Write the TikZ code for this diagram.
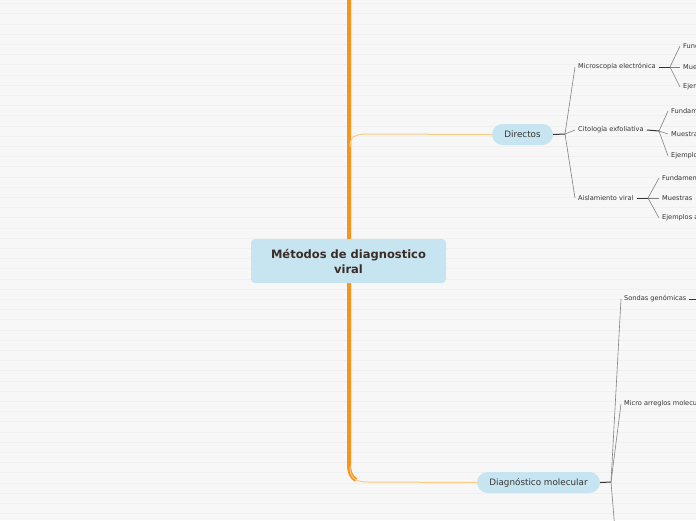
\documentclass[tikz,border=0pt]{standalone}
\usepackage{fontspec}
\setmainfont{DejaVu Sans}

\definecolor{fondo}{HTML}{F7F7F7}
\definecolor{raya}{HTML}{F0F0F0}
\definecolor{naranja}{HTML}{F7941D}
\definecolor{naranjaclaro}{HTML}{FCCB86}
\definecolor{celeste}{HTML}{C6E5F0}
\definecolor{titulo}{HTML}{3B2C27}
\definecolor{texto}{HTML}{333333}
\definecolor{gris}{HTML}{808080}

\tikzset{
  central/.style={rounded corners=4pt, fill=celeste, text=titulo,
    font=\bfseries\fontsize{11.5}{15}\selectfont, align=center,
    minimum width=195pt, minimum height=44pt},
  tema/.style={rounded corners=10.5pt, fill=celeste, text=texto,
    font=\fontsize{8.8}{10}\selectfont, minimum height=21pt},
  hoja/.style={anchor=west, inner xsep=3pt, inner ysep=0pt, text=texto,
    font=\fontsize{6.6}{8}\selectfont},
  tronco/.style={draw=naranja, line width=4pt},
  ramaclara/.style={draw=naranjaclaro, line width=1pt},
  barra/.style={draw=texto, line width=1pt},
  enlace/.style={draw=gris, line width=0.6pt},
}

\begin{document}
\begin{tikzpicture}[x=1pt, y=-1pt]
                    % Background
                    \useasboundingbox (0,0) rectangle (696,520);
                    \clip (0,0) rectangle (696,520);
                    \fill[fondo] (0,0) rectangle (696,520);
                    \foreach \i in {0,...,50}
                        \draw[raya, line width=0.7pt] (0,3.5+10.2*\i) -- (696,3.5+10.2*\i);
                    % Trunk
                    \draw[tronco] (349,-5) -- (349,464)
                        .. controls (349,472) and (351,477) .. (356,480);
                    \coordinate (tdir) at (350,147);
                    \coordinate (tmol) at (350,466);
                    % Nodes
                    \node[central] (metodos) at (348.5,261) {Métodos de diagnostico\\viral};
                    \node[tema, minimum width=61pt] (directos) at (522.5,134.5) {Directos};
                    \node[tema, minimum width=123pt] (molecular) at (538.5,482.5) {Diagnóstico molecular};

                    \coordinate (jdir) at (565,134);
                    \node[hoja] (microscopia) at (575,67) {Microscopia electrónica};
                    \node[hoja] (citologia) at (575,130) {Citología exfoliativa};
                    \node[hoja] (aislamiento) at (575,198) {Aislamiento viral};

                    \coordinate (jmic) at (670,67);
                    \node[hoja] (micfun) at (680,46) {Fundamento};
                    \node[hoja] (micmue) at (680,67) {Muestras};
                    \node[hoja] (miceje) at (680,87) {Ejemplos};

                    \coordinate (jcit) at (659,131);
                    \node[hoja] (citfun) at (668,111) {Fundamento};
                    \node[hoja] (citmue) at (668,134) {Muestras};
                    \node[hoja] (citeje) at (668,156) {Ejemplos};

                    \coordinate (jais) at (648,198);
                    \node[hoja] (aisfun) at (659,178) {Fundamento};
                    \node[hoja] (aismue) at (659,198) {Muestras};
                    \node[hoja] (aiseje) at (659,218) {Ejemplos a};
                    \coordinate (aisfin) at (702,198);

                    \coordinate (jmol) at (611,482);
                    \node[hoja] (sondas) at (621,299) {Sondas genómicas};
                    \node[hoja] (micro) at (621,404) {Micro arreglos moleculares};
                    \coordinate (molfin) at (615,530);
                    \coordinate (sondasfin) at (702,299);
                    % Edges
                    \draw[ramaclara] (tdir) .. controls (350,137) and (354,134) .. (368,134) -- (directos.west);
                    \draw[ramaclara] (tmol) .. controls (350,478) and (355,482) .. (368,482) -- (molecular.west);

                    \draw[barra] (directos.east) -- (jdir);
                    \draw[enlace] (jdir) -- (microscopia.west);
                    \draw[enlace] (jdir) -- (citologia.west);
                    \draw[enlace] (jdir) -- (aislamiento.west);

                    \draw[barra] (microscopia.east) -- (jmic);
                    \draw[enlace] (jmic) -- (micfun.west);
                    \draw[enlace] (jmic) -- (micmue.west);
                    \draw[enlace] (jmic) -- (miceje.west);

                    \draw[barra] (citologia.east) -- (jcit);
                    \draw[enlace] (jcit) -- (citfun.west);
                    \draw[enlace] (jcit) -- (citmue.west);
                    \draw[enlace] (jcit) -- (citeje.west);

                    \draw[barra] (aislamiento.east) -- (jais);
                    \draw[enlace] (jais) -- (aisfun.west);
                    \draw[enlace] (jais) -- (aismue.west);
                    \draw[enlace] (jais) -- (aiseje.west);
                    \draw[barra] (aismue.east) -- (aisfin);

                    \draw[barra] (molecular.east) -- (jmol);
                    \draw[enlace] (jmol) -- (sondas.west);
                    \draw[enlace] (jmol) -- (micro.west);
                    \draw[enlace] (jmol) -- (molfin);
                    \draw[barra] (sondas.east) -- (sondasfin);
                \end{tikzpicture}
\end{document}
